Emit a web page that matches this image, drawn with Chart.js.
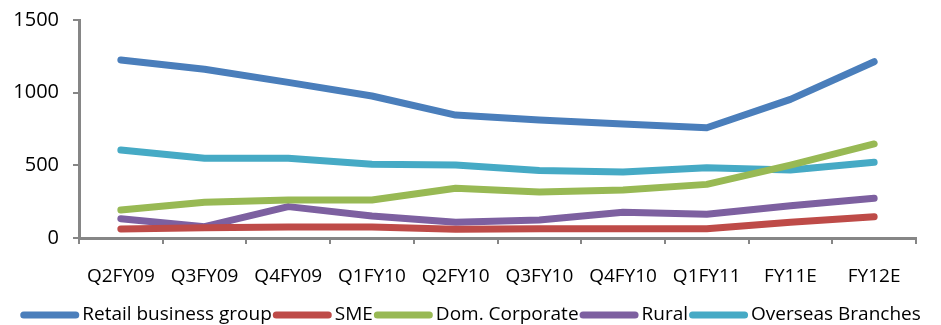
<!DOCTYPE html>
<html>
<head>
<meta charset="utf-8">
<script src="https://cdn.jsdelivr.net/npm/chart.js@4/dist/chart.umd.min.js"></script>
<style>
  html, body { margin: 0; padding: 0; background: #ffffff; }
  #wrap { width: 941px; height: 325px; }
</style>
</head>
<body>
<div id="wrap"><canvas id="c" width="941" height="325"></canvas></div>
<script>
// Periods on the horizontal axis
const periods = ['Q2FY09', 'Q3FY09', 'Q4FY09', 'Q1FY10', 'Q2FY10', 'Q3FY10', 'Q4FY10', 'Q1FY11', 'FY11E', 'FY12E'];

// Segment values per period
const retail   = [1225, 1161, 1071, 977, 846, 812, 784, 759, 954, 1213];
const sme      = [62, 71, 76, 76, 60, 64, 64, 64, 108, 147];
const domCorp  = [193, 246, 261, 261, 342, 317, 330, 369, 502, 647];
const rural    = [133, 78, 216, 151, 108, 124, 177, 163, 222, 273];
const overseas = [605, 548, 548, 507, 503, 465, 454, 484, 468, 521];

// Value axis ticks
const yTicks = [0, 500, 1000, 1500];

const axisGray = '#868686';
const fontFamily = '"Open Sans", Lato, sans-serif';

function series(label, data, color) {
  return {
    label, data,
    borderColor: color, backgroundColor: color,
    borderWidth: 7, borderCapStyle: 'round', borderJoinStyle: 'round',
    pointRadius: 0, pointHoverRadius: 0,
    tension: 0, fill: false
  };
}

// Compact single-row legend along the bottom edge: a thick rounded swatch
// followed closely by the series name.
const bottomLegend = {
  id: 'bottomLegend',
  afterDraw(chart) {
    const ctx = chart.ctx;
    const swatch = 59, gapText = 3, gapItem = 1, cy = 315;
    ctx.save();
    ctx.font = '19px ' + fontFamily;
    const items = chart.data.datasets.map(ds => ({
      label: ds.label, color: ds.borderColor, w: ctx.measureText(ds.label).width
    }));
    const total = items.reduce((s, it) => s + swatch + gapText + it.w, 0) + gapItem * (items.length - 1);
    let x = (chart.width - total) / 2;
    items.forEach(it => {
      ctx.strokeStyle = it.color;
      ctx.lineWidth = 7;
      ctx.lineCap = 'round';
      ctx.beginPath();
      ctx.moveTo(x + 3.5, cy);
      ctx.lineTo(x + swatch - 3.5, cy);
      ctx.stroke();
      ctx.fillStyle = '#000000';
      ctx.textAlign = 'left';
      ctx.textBaseline = 'middle';
      ctx.fillText(it.label, x + swatch + gapText, cy);
      x += swatch + gapText + it.w + gapItem;
    });
    ctx.restore();
  }
};

new Chart(document.getElementById('c'), {
  type: 'line',
  data: {
    labels: periods,
    datasets: [
      series('Retail business group', retail, '#4a7ebb'),
      series('SME', sme, '#be4b48'),
      series('Dom. Corporate', domCorp, '#98b954'),
      series('Rural', rural, '#7d60a0'),
      series('Overseas Branches', overseas, '#46aac5')
    ]
  },
  plugins: [bottomLegend],
  options: {
    responsive: false,
    animation: false,
    layout: { padding: { left: 0, right: 25, top: 20, bottom: 23 } },
    plugins: {
      tooltip: { enabled: false },
      legend: { display: false }
    },
    scales: {
      x: {
        offset: true,
        afterFit: s => { s.height = 64; },
        grid: {
          display: true, drawOnChartArea: false, drawTicks: true,
          tickLength: 6, color: axisGray, lineWidth: 2, offset: true
        },
        border: { display: true, color: axisGray, width: 3 },
        ticks: {
          color: '#000000', padding: 21, maxRotation: 0, autoSkip: false,
          font: { family: fontFamily, size: 19 }
        }
      },
      y: {
        min: 0, max: 1500,
        afterFit: s => { s.width = 79; s.paddingTop = 12; s.paddingBottom = 12; },
        afterBuildTicks: s => { s.ticks = yTicks.map(v => ({ value: v })); },
        grid: {
          display: true, drawOnChartArea: false, drawTicks: true,
          tickLength: 6, color: axisGray, lineWidth: 2
        },
        border: { display: true, color: axisGray, width: 3 },
        ticks: {
          color: '#000000', padding: 14,
          callback: v => String(v),
          font: { family: fontFamily, size: 20 }
        }
      }
    }
  }
});
</script>
</body>
</html>
